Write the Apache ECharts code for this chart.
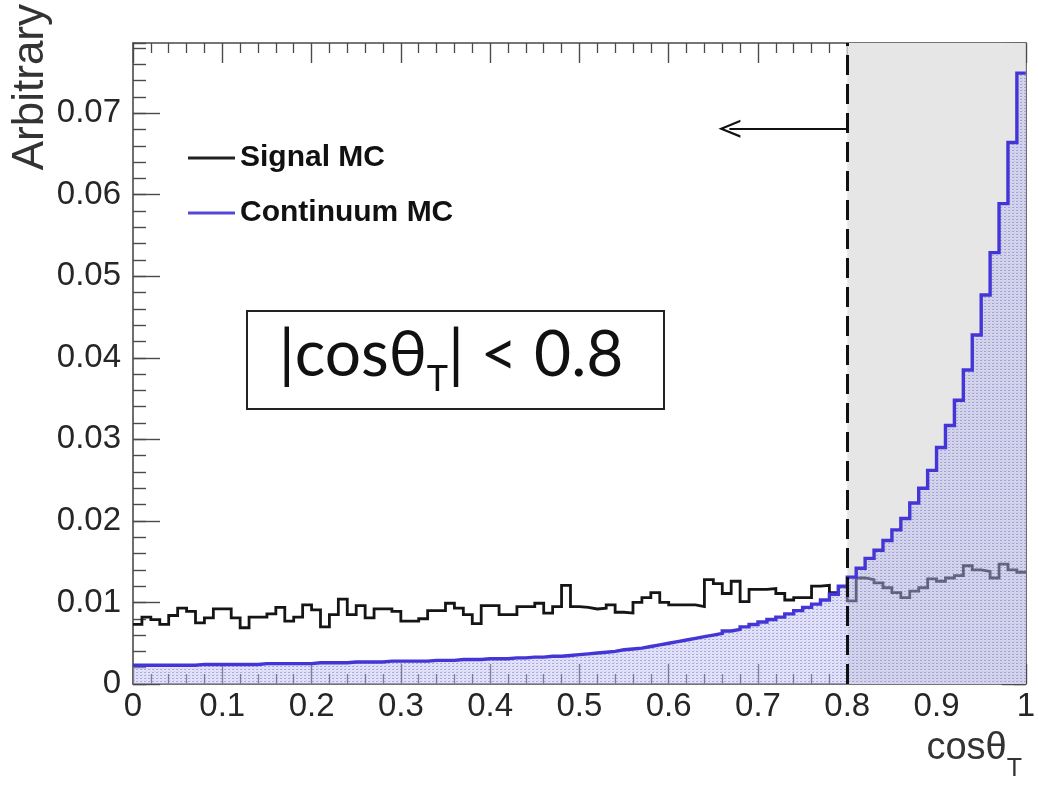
<!DOCTYPE html>
<html>
<head>
<meta charset="utf-8">
<script src="https://cdn.jsdelivr.net/npm/echarts@6/dist/echarts.min.js"></script>
<style>
  html, body { margin: 0; padding: 0; background: #ffffff; }
  #chart { width: 1038px; height: 791px; }
</style>
</head>
<body>
<div id="chart"></div>
<script>
// cos(theta_T) histograms, 100 bins on [0, 1]
const BIN_COUNT = 100;
const X_MIN = 0, X_MAX = 1;
const Y_MAX = 0.0786;
const CUT = 0.8;

const signalMC = [
  0.0073, 0.0082, 0.0079, 0.0073, 0.0084, 0.0093, 0.0089, 0.0075, 0.0081, 0.0092,
  0.0092, 0.0081, 0.0069, 0.0082, 0.0082, 0.0086, 0.0094, 0.0077, 0.0082, 0.0097,
  0.0091, 0.0070, 0.0085, 0.0104, 0.0085, 0.0096, 0.0081, 0.0092, 0.0092, 0.0089,
  0.0077, 0.0077, 0.0080, 0.0090, 0.0090, 0.0099, 0.0093, 0.0085, 0.0074, 0.0096,
  0.0096, 0.0085, 0.0085, 0.0095, 0.0095, 0.0099, 0.0087, 0.0095, 0.0121, 0.0095,
  0.0094, 0.0092, 0.0093, 0.0097, 0.0088, 0.0087, 0.0100, 0.0106, 0.0112, 0.0100,
  0.0097, 0.0097, 0.0097, 0.0095, 0.0128, 0.0123, 0.0111, 0.0126, 0.0101, 0.0116,
  0.0116, 0.0117, 0.0111, 0.0103, 0.0106, 0.0106, 0.0120, 0.0121, 0.0112, 0.0119,
  0.0102, 0.0130, 0.0128, 0.0124, 0.0118, 0.0112, 0.0106, 0.0114, 0.0118, 0.0129,
  0.0126, 0.0130, 0.0133, 0.0145, 0.0140, 0.0138, 0.0130, 0.0147, 0.0140, 0.0137
];

const continuumMC = [
  0.0023, 0.0023, 0.0023, 0.0023, 0.0023, 0.0023, 0.0023, 0.0024, 0.0024, 0.0024,
  0.0024, 0.0024, 0.0024, 0.0024, 0.0025, 0.0025, 0.0025, 0.0025, 0.0025, 0.0025,
  0.0026, 0.0026, 0.0026, 0.0026, 0.0027, 0.0027, 0.0027, 0.0027, 0.0028, 0.0028,
  0.0028, 0.0028, 0.0028, 0.0029, 0.0029, 0.0029, 0.0030, 0.0030, 0.0030, 0.0031,
  0.0031, 0.0031, 0.0032, 0.0032, 0.0033, 0.0033, 0.0034, 0.0034, 0.0035, 0.0036,
  0.0037, 0.0038, 0.0039, 0.0040, 0.0042, 0.0043, 0.0044, 0.0046, 0.0048, 0.0050,
  0.0052, 0.0054, 0.0056, 0.0058, 0.0060, 0.0062, 0.0065, 0.0067, 0.0070, 0.0073,
  0.0076, 0.0079, 0.0082, 0.0086, 0.0090, 0.0094, 0.0098, 0.0103, 0.0110, 0.0120,
  0.0131, 0.0142, 0.0154, 0.0164, 0.0176, 0.0189, 0.0203, 0.0222, 0.0240, 0.0262,
  0.0290, 0.0317, 0.0348, 0.0385, 0.0428, 0.0477, 0.0529, 0.0589, 0.0664, 0.0749
];

const xTickLabels = ['0', '0.1', '0.2', '0.3', '0.4', '0.5', '0.6', '0.7', '0.8', '0.9', '1'];
const yTickLabels = ['0', '0.01', '0.02', '0.03', '0.04', '0.05', '0.06', '0.07'];

const legendNames = ['Signal MC', 'Continuum MC'];
const cutText = { main: '|cosθ', sub: 'T', tail: '| < 0.8' };

// histogram bins -> step points at low edges, closed at the upper edge
function toSteps(values) {
  const w = (X_MAX - X_MIN) / BIN_COUNT;
  const pts = values.map((v, i) => [X_MIN + i * w, v]);
  pts.push([X_MAX, values[values.length - 1]]);
  return pts;
}

// dotted fill used for the continuum histogram
function dotPattern() {
  const c = document.createElement('canvas');
  c.width = 4; c.height = 3;
  const g = c.getContext('2d');
  g.fillStyle = 'rgba(190,190,240,0.45)';
  g.fillRect(0, 0, 4, 3);
  g.fillStyle = 'rgba(100,100,195,0.45)';
  g.fillRect(0, 0, 2, 1);
  g.fillStyle = 'rgba(150,150,220,0.3)';
  g.fillRect(2, 2, 1, 1);
  return c;
}

const FONT = '"Liberation Sans", Arial, Helvetica, sans-serif';
const FRAME = '#4a4a4a';
const LABEL = { fontFamily: FONT, fontSize: 33, color: '#262626' };

function xLabel(v) {
  const idx = Math.round(v * 10);
  if (Math.abs(v * 10 - idx) > 1e-6) return '';
  return xTickLabels[idx] || '';
}
function yLabel(v) {
  const idx = Math.round(v * 100);
  if (Math.abs(v * 100 - idx) > 1e-6) return '';
  return yTickLabels[idx] || '';
}

function xAxisDef(pos, showLabel) {
  return {
    type: 'value', position: pos, min: X_MIN, max: X_MAX, interval: 0.1,
    axisLine: { show: true, onZero: false, lineStyle: { color: FRAME, width: 1.6 } },
    axisTick: { show: true, inside: true, length: 20, lineStyle: { color: FRAME, width: 1.4 } },
    minorTick: { show: true, splitNumber: 5, length: 10, lineStyle: { color: FRAME, width: 1.3 } },
    axisLabel: showLabel ? Object.assign({ show: true, margin: 6, formatter: xLabel, showMinLabel: true, showMaxLabel: true }, LABEL) : { show: false },
    splitLine: { show: false }, minorSplitLine: { show: false }
  };
}
function yAxisDef(pos, interval, tickLen, showLine, showLabel) {
  return {
    type: 'value', position: pos, min: 0, max: Y_MAX, interval: interval,
    axisLine: { show: showLine, onZero: false, lineStyle: { color: FRAME, width: 1.6 } },
    axisTick: { show: true, inside: true, length: tickLen, lineStyle: { color: FRAME, width: 1.4 } },
    axisLabel: showLabel ? Object.assign({ show: true, margin: 12, formatter: yLabel, showMaxLabel: false }, LABEL) : { show: false },
    splitLine: { show: false }
  };
}

const chart = echarts.init(document.getElementById('chart'), null, { renderer: 'canvas' });

const option = {
  animation: false,
  backgroundColor: '#ffffff',
  grid: { left: 133, right: 8, top: 43, bottom: 107, containLabel: false },
  xAxis: [xAxisDef('bottom', true), xAxisDef('top', false)],
  yAxis: [
    yAxisDef('left', 0.01, 27, true, true),
    yAxisDef('right', 0.01, 24, true, false),
    yAxisDef('left', 0.002, 13, false, false),
    yAxisDef('right', 0.002, 12, false, false)
  ],
  legend: {
    orient: 'vertical', left: 183, top: 137,
    itemWidth: 47, itemHeight: 3, itemGap: 23, icon: 'rect',
    textStyle: { fontFamily: FONT, fontWeight: 'bold', fontSize: 30, color: '#111', lineHeight: 32 },
    data: [
      { name: legendNames[0], itemStyle: { color: '#222222' } },
      { name: legendNames[1], itemStyle: { color: '#5548d8' } }
    ]
  },
  series: [
    {
      // rejected region x > cut
      type: 'line', name: 'shade', data: [], z: 1, silent: true,
      markArea: {
        silent: true,
        itemStyle: { color: '#e6e6e6' },
        data: [[{ xAxis: CUT, yAxis: 0 }, { xAxis: X_MAX, yAxis: Y_MAX }]]
      }
    },
    {
      type: 'line', name: legendNames[0], step: 'end', z: 2,
      data: toSteps(signalMC), showSymbol: false, symbol: 'none',
      itemStyle: { color: '#222222' },
      lineStyle: { color: '#151515', width: 2.8, join: 'miter' }
    },
    {
      type: 'line', name: legendNames[1], step: 'end', z: 3,
      data: toSteps(continuumMC), showSymbol: false, symbol: 'none',
      itemStyle: { color: '#5548d8' },
      lineStyle: { color: '#4436d6', width: 3.4, join: 'miter' },
      areaStyle: { color: { image: dotPattern(), repeat: 'repeat' }, opacity: 1 }
    },
    {
      // cut line and selection arrow
      type: 'line', name: 'cut', data: [], z: 5, silent: true,
      markLine: {
        silent: true, animation: false,
        symbol: ['none', 'none'],
        label: { show: false },
        data: [
          {
            xAxis: CUT,
            lineStyle: { color: '#111', width: 3, type: [20, 9] }
          },
          [
            { coord: [CUT, 0.0681], symbol: 'none' },
            {
              coord: [0.668, 0.0681],
              symbol: 'path://M0,0 L-9,18 L-6.6,18 L0,4.6 L6.6,18 L9,18 Z',
              symbolSize: [18, 22]
            }
          ]
        ],
        lineStyle: { color: '#111', width: 2, type: 'solid' },
        itemStyle: { color: '#111' }
      }
    }
  ],
  graphic: [
    {
      type: 'text', x: 9, y: 4, rotation: Math.PI / 2,
      style: { text: 'Arbitrary', font: '44px ' + FONT, fill: '#333', align: 'right', verticalAlign: 'top' }
    },
    {
      type: 'text', x: 1022, y: 730,
      style: {
        text: '{m|cosθ}{s|T}',
        align: 'right', verticalAlign: 'top',
        rich: {
          m: { fontFamily: FONT, fontSize: 38, fill: '#333', lineHeight: 46, verticalAlign: 'top' },
          s: { fontFamily: FONT, fontSize: 25, fill: '#333', lineHeight: 25, padding: [27, 0, 0, 0], verticalAlign: 'top' }
        }
      }
    },
    {
      type: 'group', left: 246, top: 310,
      children: [
        {
          type: 'rect', shape: { x: 0, y: 0, width: 417, height: 98 },
          style: { fill: '#ffffff', stroke: '#222', lineWidth: 2 }
        },
        {
          type: 'text', x: 204, y: 48,
          style: {
            text: '{m|' + cutText.main + '}{s|' + cutText.sub + '}{m|' + cutText.tail + '}',
            align: 'center', verticalAlign: 'middle',
            rich: {
              m: { fontFamily: 'Lato, "DejaVu Sans", sans-serif', fontSize: 64, fill: '#111', lineHeight: 72, verticalAlign: 'top' },
              s: { fontFamily: 'Lato, "DejaVu Sans", sans-serif', fontSize: 36, fill: '#111', lineHeight: 36, padding: [38, 0, 0, 0], verticalAlign: 'top' }
            }
          }
        }
      ]
    }
  ]
};

chart.setOption(option);
</script>
</body>
</html>
